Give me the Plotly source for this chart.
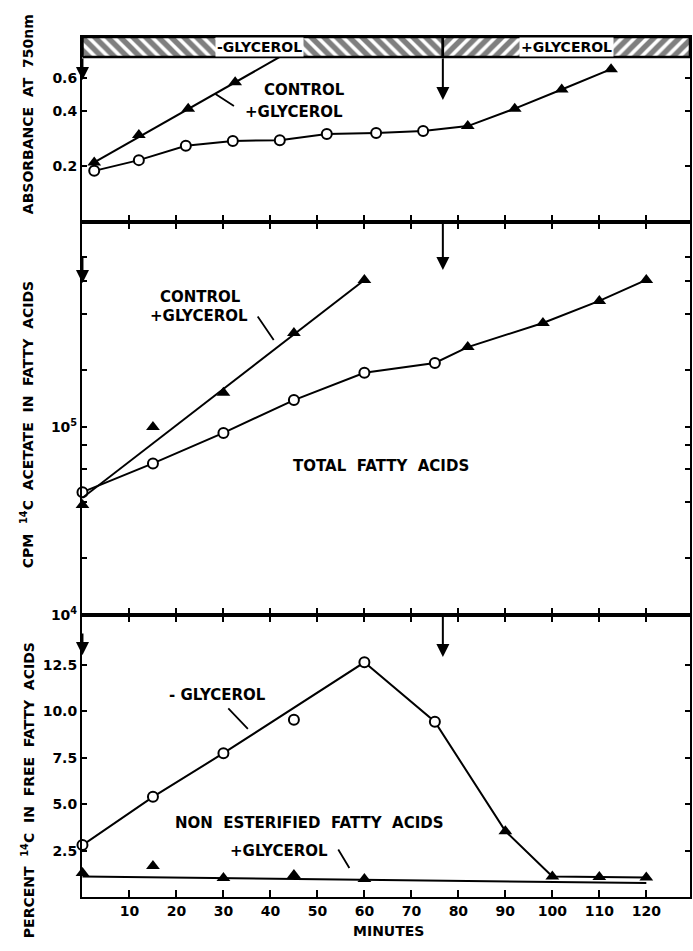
import math
import plotly.graph_objects as go

# ---------------- data ----------------
minutes_ticks = [10, 20, 30, 40, 50, 60, 70, 80, 90, 100, 110, 120]
glycerol_added_min = 76.7

# Panel A: absorbance at 750 nm (log scale)
abs_minus_t = [2.5, 12, 22, 32, 42, 52, 62.5, 72.5]
abs_minus_v = [0.189, 0.216, 0.258, 0.274, 0.277, 0.299, 0.303, 0.310]
abs_after_t = [82, 92, 102, 112.5]
abs_after_v = [0.33, 0.41, 0.52, 0.67]
abs_ctrl_t = [2.5, 12, 22.5, 32.5]
abs_ctrl_v = [0.21, 0.295, 0.41, 0.57]
abs_ctrl_fit_t = [2.5, 42]
abs_ctrl_fit_v = [0.21, 0.78]
abs_ticks = [0.2, 0.4, 0.6]
abs_ticktext = ["0.2", "0.4", "0.6"]
bar_low, bar_high = 0.78, 1.0

# Panel B: CPM 14C acetate in total fatty acids (log scale)
tfa_minus_t = [0, 15, 30, 45, 60, 75]
tfa_minus_v = [45000, 64000, 93000, 139000, 194000, 219000]
tfa_after_t = [82, 98, 110, 120]
tfa_after_v = [266000, 357000, 468000, 605000]
tfa_ctrl_t = [0, 15, 30, 45, 60]
tfa_ctrl_v = [38500, 100000, 152000, 316000, 605000]
tfa_ctrl_fit_t = [0, 60]
tfa_ctrl_fit_v = [42000, 605000]
tfa_ticks = [1e4, 1e5]
tfa_ticktext = ["10<sup>4</sup>", "10<sup>5</sup>"]
tfa_minor_ticks = [2e4, 4e4, 6e4, 8e4, 2e5, 4e5, 6e5, 8e5]

# Panel C: percent 14C in free fatty acids (linear)
nefa_minus_t = [0, 15, 30, 45, 60, 75]
nefa_minus_v = [2.8, 5.4, 7.75, 9.55, 12.65, 9.45]
nefa_minus_off_line = [45]
nefa_after_t = [90, 100, 110, 120]
nefa_after_v = [3.55, 1.1, 1.08, 1.05]
nefa_plus_t = [0, 15, 30, 45, 60]
nefa_plus_v = [1.3, 1.67, 1.02, 1.19, 0.97]
nefa_plus_fit_t = [0, 120]
nefa_plus_fit_v = [1.1, 0.75]
nefa_ticks = [2.5, 5.0, 7.5, 10.0, 12.5]
nefa_ticktext = ["2.5", "5.0", "7.5", "10.0", "12.5"]

# ---------------- styling ----------------
FONT = "DejaVu Sans"
BLACK = "black"
X_MAX = 129.3

circle = dict(symbol="circle", size=10, color="white", line=dict(width=2, color=BLACK))
tri = dict(symbol="triangle-up", size=12, color=BLACK)

fig = go.Figure()


def add_series(xa, ya, line_t, line_v, markers):
    fig.add_trace(go.Scatter(x=line_t, y=line_v, mode="lines", xaxis=xa, yaxis=ya,
                             line=dict(color=BLACK, width=2), showlegend=False, hoverinfo="skip"))
    for t, v, m in markers:
        fig.add_trace(go.Scatter(x=t, y=v, mode="markers", xaxis=xa, yaxis=ya, marker=m,
                                 showlegend=False, cliponaxis=False))


# hatched glycerol bar on top panel
for x0, x1, shape in [(0, glycerol_added_min, "\\"), (glycerol_added_min, X_MAX, "/")]:
    fig.add_trace(go.Scatter(
        x=[x0, x1, x1, x0, x0],
        y=[bar_low, bar_low, bar_high, bar_high, bar_low],
        mode="lines", fill="toself", xaxis="x", yaxis="y",
        fillpattern=dict(shape=shape, fgcolor=BLACK, bgcolor="white", size=9, solidity=0.6),
        fillcolor="white", line=dict(color=BLACK, width=2.5), showlegend=False, hoverinfo="skip"))

# Panel A
add_series("x", "y", abs_minus_t + abs_after_t, abs_minus_v + abs_after_v,
           [(abs_minus_t, abs_minus_v, circle), (abs_after_t, abs_after_v, tri)])
add_series("x", "y", abs_ctrl_fit_t, abs_ctrl_fit_v, [(abs_ctrl_t, abs_ctrl_v, tri)])

# Panel B
add_series("x2", "y2", tfa_minus_t + tfa_after_t, tfa_minus_v + tfa_after_v,
           [(tfa_minus_t, tfa_minus_v, circle), (tfa_after_t, tfa_after_v, tri)])
add_series("x2", "y2", tfa_ctrl_fit_t, tfa_ctrl_fit_v, [(tfa_ctrl_t, tfa_ctrl_v, tri)])

# Panel C
line_t = [t for t in nefa_minus_t if t not in nefa_minus_off_line] + nefa_after_t
line_v = [v for t, v in zip(nefa_minus_t, nefa_minus_v) if t not in nefa_minus_off_line] + nefa_after_v
add_series("x3", "y3", line_t, line_v,
           [(nefa_minus_t, nefa_minus_v, circle), (nefa_after_t, nefa_after_v, tri)])
add_series("x3", "y3", nefa_plus_fit_t, nefa_plus_fit_v, [(nefa_plus_t, nefa_plus_v, tri)])

# ---------------- axes ----------------
L, R, T, B = 82, 1, 37, 54
H = 951 - T - B
d_bot = (897 - 615) / (897 - 37)
d_mid = (897 - 222) / (897 - 37)

xcommon = dict(range=[-0.1, X_MAX], tickvals=minutes_ticks, ticks="inside", ticklen=7, tickwidth=2,
               tickcolor=BLACK, showline=True, linewidth=2, linecolor=BLACK, showgrid=False,
               zeroline=False, tickfont=dict(size=14, family=FONT, color=BLACK, weight="bold"))
ycommon = dict(ticks="inside", ticklen=5, tickwidth=2, tickcolor=BLACK, showline=True,
               linewidth=2, linecolor=BLACK, showgrid=False, zeroline=False, mirror="ticks",
               tickfont=dict(size=14, family=FONT, color=BLACK, weight="bold"))

fig.update_layout(
    width=693, height=951, margin=dict(l=L, r=R, t=T, b=B),
    paper_bgcolor="white", plot_bgcolor="white",
    font=dict(family=FONT, color=BLACK, size=15, weight="bold"),
    xaxis=dict(anchor="y", showticklabels=False, mirror=True, **xcommon),
    xaxis2=dict(anchor="y2", showticklabels=False, mirror="ticks", **xcommon),
    xaxis3=dict(anchor="y3", showticklabels=True, mirror="ticks", **xcommon),
    yaxis=dict(type="log", range=[-1, 0], domain=[d_mid, 1], tickvals=abs_ticks,
               ticktext=abs_ticktext, **ycommon),
    yaxis2=dict(type="log", range=[4, 6.09], domain=[d_bot, d_mid], tickvals=tfa_ticks,
                ticktext=tfa_ticktext,
                minor=dict(tickvals=tfa_minor_ticks, ticks="inside", ticklen=5, tickwidth=2,
                           tickcolor=BLACK, showgrid=False),
                **ycommon),
    yaxis3=dict(range=[0, 15.2], domain=[0, d_bot], tickvals=nefa_ticks,
                ticktext=nefa_ticktext, **ycommon),
)

ann = []


def px_x(px):
    return (px - L) / 610


def px_y(py):
    return (897 - py) / H


def text(x, y, s, xref, yref, size=15, bg=None, angle=0):
    d = dict(x=x, y=y, xref=xref, yref=yref, text=s, showarrow=False,
             font=dict(size=size, family=FONT, color=BLACK, weight="bold"),
             xanchor="center", yanchor="middle", textangle=angle)
    if bg:
        d.update(bgcolor=bg, borderpad=1)
    ann.append(d)


def pointer(x, y, xref, yref, ax, ay, head=0, width=1.8, size=1.0):
    ann.append(dict(x=x, y=y, xref=xref, yref=yref, text="", showarrow=True, arrowhead=head,
                    arrowwidth=width, arrowsize=size, arrowcolor=BLACK, ax=ax, ay=ay, standoff=0))


lg = math.log10

# axis titles
text(px_x(28), px_y(114), "ABSORBANCE  AT  750nm", "paper", "paper", size=14, angle=-90)
text(px_x(27), px_y(425), "CPM  <sup>14</sup>C  ACETATE  IN  FATTY  ACIDS", "paper", "paper", size=14, angle=-90)
text(px_x(28), px_y(790), "PERCENT  <sup>14</sup>C  IN  FREE  FATTY  ACIDS", "paper", "paper", size=14, angle=-90)
text(px_x(390), px_y(931), "MINUTES", "paper", "paper", size=14)

# bar labels
text(37.7, lg(0.883), "-GLYCEROL", "x", "y", size=14, bg="white")
text(103.0, lg(0.883), "+GLYCEROL", "x", "y", size=14, bg="white")

# Panel A labels
text(47.2, lg(0.517), "CONTROL", "x", "y")
text(45.1, lg(0.393), "+GLYCEROL", "x", "y")
pointer(28.3, lg(0.492), "x", "y", 20, 13)

# Panel B labels
text(25.2, lg(491000), "CONTROL", "x2", "y2")
text(24.7, lg(389000), "+GLYCEROL", "x2", "y2")
pointer(40.7, lg(290000), "x2", "y2", -17, -25)
text(63.6, lg(62100), "TOTAL  FATTY  ACIDS", "x2", "y2")

# Panel C labels
text(28.8, 10.89, "- GLYCEROL", "x3", "y3")
pointer(35.2, 9.06, "x3", "y3", -21, -22)
text(48.3, 3.99, "NON  ESTERIFIED  FATTY  ACIDS", "x3", "y3")
text(41.9, 2.48, "+GLYCEROL", "x3", "y3")
pointer(56.8, 1.56, "x3", "y3", -12, -20)

# glycerol addition arrows
for xr, yr, head_frac, tail, head_frac_l, tail_l in [
    ("x", "y domain", 0.659, -43, 0.768, -23),
    ("x2", "y2 domain", 0.878, -48, 0.845, -28),
    ("x3", "y3 domain", 0.851, -42, 0.858, -23),
]:
    pointer(glycerol_added_min, head_frac, xr, yr, 0, tail, head=2, width=2, size=1.3)
    pointer(0, head_frac_l, xr, yr, 0, tail_l, head=2, width=2, size=1.3)

fig.update_layout(annotations=ann)
fig.write_html("out.html")
